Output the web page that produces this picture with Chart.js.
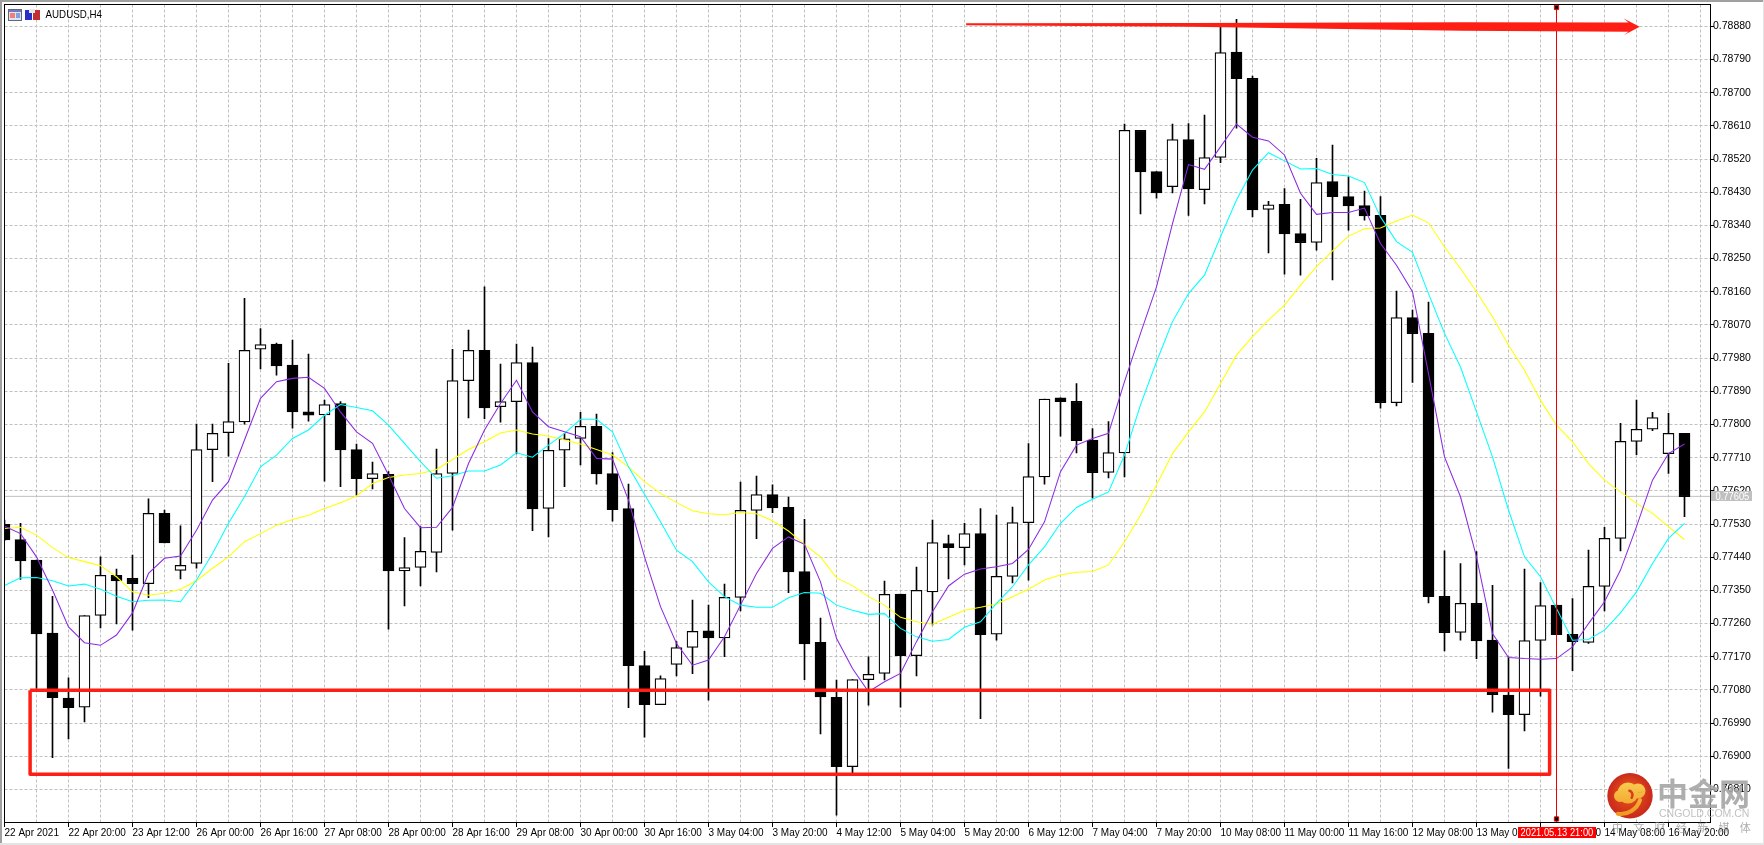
<!DOCTYPE html>
<html>
<head>
<meta charset="utf-8">
<title>AUDUSD,H4</title>
<style>
  html, body { margin: 0; padding: 0; background: #fff; overflow: hidden; }
  canvas { display: block; }
</style>
<script src="https://cdn.jsdelivr.net/npm/chart.js@4/dist/chart.umd.min.js"></script>
</head>
<body>
<canvas id="chart" width="1764" height="845"></canvas>
<script>
const symbolTitle = 'AUDUSD,H4';

// candles, one H4 bar per entry
const opens = [0.77529,0.77488,0.77432,0.77234,0.77058,0.77033,0.77282,0.77391,0.77383,0.77368,0.77559,0.77404,0.77423,0.77732,0.77778,0.77807,0.78004,0.78018,0.77961,0.77834,0.77826,0.77857,0.77732,0.77653,0.77665,0.77403,0.77412,0.77453,0.77667,0.77919,0.78001,0.77848,0.77862,0.77968,0.77572,0.77730,0.77762,0.77795,0.77667,0.77572,0.77146,0.77040,0.77149,0.77195,0.77240,0.77221,0.77331,0.77567,0.77610,0.77575,0.77401,0.77209,0.77060,0.76872,0.77108,0.77125,0.77340,0.77173,0.77346,0.77477,0.77466,0.77504,0.77231,0.77388,0.77534,0.77658,0.77872,0.77863,0.77758,0.77670,0.77723,0.78598,0.78486,0.78445,0.78573,0.78437,0.78524,0.78810,0.78739,0.78383,0.78397,0.78318,0.78294,0.78459,0.78418,0.78394,0.78367,0.77859,0.78090,0.78047,0.77334,0.77236,0.77315,0.77215,0.77066,0.77013,0.77214,0.77310,0.77231,0.77209,0.77361,0.77491,0.77754,0.77787,0.77721,0.77776];
const highs = [0.77541,0.77532,0.77432,0.77334,0.77113,0.77282,0.77441,0.77408,0.77446,0.77598,0.77568,0.77525,0.77801,0.77801,0.77966,0.78142,0.78060,0.78021,0.78029,0.77991,0.77866,0.77862,0.77747,0.77698,0.77672,0.77493,0.77523,0.77733,0.78004,0.78056,0.78173,0.77964,0.78018,0.78010,0.77762,0.77776,0.77833,0.77828,0.77724,0.77638,0.77185,0.77118,0.77211,0.77324,0.77310,0.77367,0.77644,0.77660,0.77636,0.77603,0.77543,0.77275,0.77107,0.77108,0.77170,0.77375,0.77340,0.77413,0.77541,0.77500,0.77532,0.77572,0.77554,0.77576,0.77748,0.77869,0.77872,0.77911,0.77789,0.77808,0.78615,0.78598,0.78486,0.78615,0.78616,0.78639,0.78884,0.78899,0.78745,0.78405,0.78440,0.78411,0.78522,0.78558,0.78472,0.78433,0.78418,0.78162,0.78110,0.78132,0.77457,0.77423,0.77455,0.77364,0.77170,0.77408,0.77371,0.77310,0.77328,0.77459,0.77521,0.77803,0.77866,0.77833,0.77830,0.77776];
const lows = [0.77485,0.77380,0.77084,0.76896,0.76947,0.76993,0.77248,0.77259,0.77242,0.77330,0.77479,0.77381,0.77410,0.77645,0.77714,0.77801,0.77951,0.77934,0.77790,0.77809,0.77646,0.77631,0.77608,0.77625,0.77245,0.77308,0.77362,0.77400,0.77513,0.77818,0.77816,0.77806,0.77720,0.77512,0.77495,0.77631,0.77690,0.77638,0.77538,0.77032,0.76952,0.77040,0.77118,0.77124,0.77052,0.77170,0.77294,0.77490,0.77561,0.77344,0.77108,0.76961,0.76740,0.76855,0.77039,0.77107,0.77033,0.77118,0.77256,0.77381,0.77419,0.77002,0.77215,0.77370,0.77378,0.77638,0.77768,0.77723,0.77600,0.77655,0.77658,0.78371,0.78414,0.78428,0.78367,0.78398,0.78510,0.78604,0.78363,0.78265,0.78208,0.78205,0.78273,0.78192,0.78327,0.78354,0.77844,0.77850,0.77914,0.77316,0.77186,0.77215,0.77165,0.77020,0.76867,0.76969,0.77063,0.77230,0.77132,0.77206,0.77294,0.77457,0.77718,0.77783,0.77667,0.77550];
const closes = [0.77487,0.77430,0.77232,0.77059,0.77032,0.77282,0.77391,0.77376,0.77368,0.77559,0.77479,0.77418,0.77732,0.77776,0.77808,0.78001,0.78017,0.77959,0.77834,0.77825,0.77854,0.77731,0.77653,0.77667,0.77403,0.77412,0.77456,0.77667,0.77919,0.78001,0.77845,0.77862,0.77968,0.77571,0.77730,0.77761,0.77795,0.77666,0.77569,0.77146,0.77040,0.77111,0.77195,0.77239,0.77221,0.77331,0.77567,0.77610,0.77574,0.77400,0.77205,0.77061,0.76872,0.77108,0.77122,0.77339,0.77173,0.77350,0.77480,0.77466,0.77504,0.77230,0.77388,0.77534,0.77659,0.77869,0.77862,0.77756,0.77669,0.77724,0.78598,0.78485,0.78428,0.78573,0.78439,0.78524,0.78809,0.78738,0.78382,0.78396,0.78317,0.78293,0.78456,0.78418,0.78393,0.78366,0.77859,0.78090,0.78046,0.77333,0.77235,0.77315,0.77213,0.77067,0.77013,0.77214,0.77309,0.77230,0.77211,0.77361,0.77491,0.77754,0.77787,0.77819,0.77776,0.77604];

// moving averages, same bars
const maPurple = [0.77524,0.77504,0.77441,0.77351,0.77251,0.77208,0.77201,0.77229,0.77289,0.77396,0.77437,0.77443,0.77513,0.77595,0.77645,0.77758,0.77871,0.77916,0.77925,0.77928,0.77898,0.77834,0.77780,0.77749,0.77663,0.77572,0.77520,0.77521,0.77575,0.77694,0.77785,0.77857,0.77920,0.77834,0.77794,0.77780,0.77767,0.77708,0.77706,0.77595,0.77441,0.77306,0.77206,0.77147,0.77161,0.77224,0.77310,0.77396,0.77464,0.77495,0.77475,0.77373,0.77220,0.77138,0.77075,0.77102,0.77125,0.77211,0.77292,0.77362,0.77394,0.77408,0.77414,0.77423,0.77461,0.77536,0.77672,0.77744,0.77762,0.77776,0.77916,0.78047,0.78173,0.78345,0.78505,0.78492,0.78553,0.78615,0.78579,0.78569,0.78531,0.78427,0.78370,0.78375,0.78375,0.78387,0.78291,0.78232,0.78160,0.77938,0.77712,0.77604,0.77441,0.77233,0.77168,0.77165,0.77163,0.77165,0.77197,0.77260,0.77319,0.77405,0.77523,0.77649,0.77721,0.77747];
const maAqua = [0.77363,0.77384,0.77385,0.77376,0.77362,0.77367,0.77353,0.77334,0.77319,0.77323,0.77324,0.77319,0.77378,0.77450,0.77532,0.77604,0.77685,0.77717,0.77762,0.77785,0.77825,0.77854,0.77846,0.77837,0.77798,0.77749,0.77699,0.77654,0.77661,0.77674,0.77674,0.77690,0.77723,0.77711,0.77744,0.77776,0.77814,0.77814,0.77780,0.77685,0.77611,0.77536,0.77459,0.77428,0.77373,0.77333,0.77310,0.77304,0.77304,0.77330,0.77344,0.77342,0.77310,0.77296,0.77285,0.77287,0.77247,0.77224,0.77212,0.77217,0.77250,0.77265,0.77315,0.77360,0.77419,0.77468,0.77532,0.77575,0.77597,0.77617,0.77717,0.77853,0.77970,0.78079,0.78155,0.78205,0.78309,0.78409,0.78490,0.78537,0.78515,0.78493,0.78494,0.78478,0.78474,0.78456,0.78363,0.78296,0.78267,0.78155,0.78047,0.77956,0.77834,0.77712,0.77568,0.77441,0.77387,0.77301,0.77215,0.77217,0.77242,0.77289,0.77346,0.77423,0.77491,0.77532];
const maYellow = [0.77518,0.77521,0.77500,0.77466,0.77439,0.77428,0.77417,0.77387,0.77346,0.77337,0.77342,0.77353,0.77376,0.77410,0.77441,0.77482,0.77504,0.77527,0.77542,0.77554,0.77572,0.77588,0.77606,0.77640,0.77656,0.77663,0.77667,0.77678,0.77705,0.77732,0.77753,0.77777,0.77785,0.77774,0.77769,0.77758,0.77747,0.77732,0.77717,0.77685,0.77645,0.77613,0.77588,0.77566,0.77558,0.77555,0.77561,0.77558,0.77539,0.77511,0.77475,0.77441,0.77384,0.77363,0.77333,0.77310,0.77277,0.77265,0.77258,0.77277,0.77296,0.77304,0.77313,0.77333,0.77353,0.77378,0.77392,0.77399,0.77401,0.77419,0.77482,0.77554,0.77636,0.77721,0.77780,0.77834,0.77911,0.77988,0.78038,0.78083,0.78124,0.78178,0.78228,0.78271,0.78311,0.78331,0.78333,0.78352,0.78368,0.78347,0.78282,0.78223,0.78160,0.78092,0.78015,0.77947,0.77866,0.77798,0.77753,0.77694,0.77649,0.77617,0.77586,0.77559,0.77523,0.77488];

// axis labels
const xTickLabels = ['22 Apr 2021','22 Apr 20:00','23 Apr 12:00','26 Apr 00:00','26 Apr 16:00','27 Apr 08:00','28 Apr 00:00','28 Apr 16:00','29 Apr 08:00','30 Apr 00:00','30 Apr 16:00','3 May 04:00','3 May 20:00','4 May 12:00','5 May 04:00','5 May 20:00','6 May 12:00','7 May 04:00','7 May 20:00','10 May 08:00','11 May 00:00','11 May 16:00','12 May 08:00','13 May 00:00','13 May 16:00','14 May 08:00','16 May 20:00'];
const yTickValues = [0.7888,0.7879,0.787,0.7861,0.7852,0.7843,0.7834,0.7825,0.7816,0.7807,0.7798,0.7789,0.778,0.7771,0.7762,0.7753,0.7744,0.7735,0.7726,0.7717,0.7708,0.7699,0.769,0.7681];

// drawn objects on the chart
const lastPrice = 0.77605;
const lastPriceText = '0.77605';
const cursorBar = 97;
const cursorText = '2021.05.13 21:00';
const boxX = [1.6, 96.57, 96.57, 1.6, 1.6];
const boxY = [0.77079, 0.77079, 0.76851, 0.76851, 0.77079];
const arrowX = [60.1, 74.1, 91.1, 101.5, 101.2, 102.2, 101.2, 101.5, 91.1, 74.1, 60.1];
const arrowY = [0.78888, 0.78889, 0.78891, 0.7889, 0.78901, 0.78879, 0.78856, 0.78865, 0.78868, 0.78879, 0.78883];

// 1705.5px wide plot at exactly 16px a bar keeps the candles on whole pixels
const xMin = 0, xMax = 106.59375;
const yMin = 0.767218, yMax = 0.789391;

const axisFont = { family: '"Liberation Sans", sans-serif', size: 10.5 };
const RED = '#ff1e14';

const bars = opens.map((o, i) => i);
const isUp = i => closes[i] >= opens[i];

// narrow text for the tags, the terminal font is tall and tight
function squeezedText(ctx, text, x, y, size, xScale) {
  ctx.save();
  ctx.translate(x, y);
  ctx.scale(xScale, 1);
  ctx.font = size + 'px "Liberation Sans"';
  ctx.fillText(text, 0, 0);
  ctx.restore();
}

function drawChrome(chart) {
  const { ctx, width, height } = chart;
  ctx.save();
  ctx.fillStyle = '#a0a0a0';
  ctx.fillRect(0, 0, width, 2);
  ctx.fillRect(0, 0, 2, height);
  ctx.fillStyle = '#e4e4e4';
  ctx.fillRect(0, height - 2, width, 2);
  ctx.fillRect(width - 1, 0, 1, height);
  ctx.restore();
}

function drawIcons(ctx) {
  ctx.fillStyle = '#dfe3f5';
  ctx.fillRect(8, 9, 14, 11);
  ctx.fillStyle = '#7078c0';
  ctx.fillRect(8, 9, 14, 3);
  ctx.fillStyle = '#f08070';
  ctx.fillRect(10, 13, 5, 5);
  ctx.fillStyle = '#80a0e0';
  ctx.fillRect(16, 13, 4, 5);
  ctx.strokeStyle = '#606878';
  ctx.strokeRect(8.5, 9.5, 13, 11);
  ctx.fillStyle = '#2830c8';
  ctx.fillRect(25, 10, 7, 10);
  ctx.fillStyle = '#c03030';
  ctx.fillRect(33, 10, 7, 10);
  ctx.fillStyle = '#e8e8e8';
  ctx.fillRect(29, 9, 6, 4);
}

function drawWatermark(ctx) {
  const glow = ctx.createRadialGradient(1630, 790, 4, 1630, 796, 23);
  glow.addColorStop(0, '#e8541a');
  glow.addColorStop(1, '#c8281c');
  ctx.fillStyle = glow;
  ctx.beginPath();
  ctx.arc(1630, 795.7, 22.7, 0, Math.PI * 2);
  ctx.fill();

  // cloud swirl of the logo
  const gold = ctx.createLinearGradient(0, 782, 0, 815);
  gold.addColorStop(0, '#f8cc50');
  gold.addColorStop(1, '#f09820');
  ctx.fillStyle = gold;
  ctx.beginPath();
  ctx.arc(1628, 793, 10.5, 0, Math.PI * 2);
  ctx.arc(1638, 791, 7.5, 0, Math.PI * 2);
  ctx.arc(1620, 796, 6, 0, Math.PI * 2);
  ctx.fill();
  ctx.strokeStyle = '#d83c1c';
  ctx.lineCap = 'round';
  ctx.lineWidth = 2.5;
  ctx.beginPath();
  ctx.arc(1628, 795, 4.5, Math.PI * 0.2, Math.PI * 1.6, true);
  ctx.stroke();
  ctx.strokeStyle = gold;
  ctx.lineWidth = 4;
  ctx.beginPath();
  ctx.arc(1621, 794, 20, Math.PI * 0.55, Math.PI * 0.1, true);
  ctx.stroke();

  ctx.textAlign = 'left';
  ctx.textBaseline = 'alphabetic';
  ctx.fillStyle = 'rgba(165,165,165,0.9)';
  ctx.font = 'bold 31px "Noto Sans CJK SC"';
  ctx.fillText('中金网', 1657, 805);
  ctx.font = '10.5px "Liberation Sans"';
  ctx.fillStyle = 'rgba(190,190,190,0.95)';
  ctx.fillText('CNGOLD.COM.CN', 1659, 817);
  ctx.font = '11px "Noto Sans CJK SC"';
  ctx.fillStyle = 'rgba(140,140,140,0.7)';
  ['中', '文', '财', '经', '新', '媒', '体'].forEach((ch, i) => ctx.fillText(ch, 1612 + i * 21.3, 832));
}

const overlayPlugin = {
  id: 'overlay',
  beforeDraw(chart) {
    drawChrome(chart);
  },
  afterDraw(chart) {
    const { ctx, chartArea, scales } = chart;
    ctx.save();

    // tapered arrow above the last high
    ctx.fillStyle = RED;
    ctx.beginPath();
    arrowX.forEach((x, i) => {
      ctx.lineTo(scales.x.getPixelForValue(x), scales.y.getPixelForValue(arrowY[i]));
    });
    ctx.closePath();
    ctx.fill();

    // frame, kept on pixel centres
    const left = Math.floor(chartArea.left) + 0.5;
    const top = Math.floor(chartArea.top) + 0.5;
    ctx.strokeStyle = '#000';
    ctx.lineWidth = 1;
    ctx.strokeRect(left, top, Math.round(chartArea.right) - left + 0.5, Math.round(chartArea.bottom) - top + 0.5);

    drawIcons(ctx);
    ctx.fillStyle = '#000';
    ctx.textBaseline = 'middle';
    ctx.textAlign = 'left';
    squeezedText(ctx, symbolTitle, 45.5, 14.5, 11.5, 0.85);

    // last price tag
    const py = Math.round(scales.y.getPixelForValue(lastPrice));
    ctx.fillStyle = '#c0c0c0';
    ctx.fillRect(1711, py - 5, 41, 10);
    ctx.fillStyle = '#fff';
    squeezedText(ctx, lastPriceText, 1715.5, py + 0.5, 11, 0.85);

    // cursor date tag
    ctx.fillStyle = '#ff0000';
    ctx.fillRect(1518, 827, 78, 11);
    ctx.fillStyle = '#fff';
    squeezedText(ctx, cursorText, 1520.5, 832.5, 11, 0.85);

    drawWatermark(ctx);
    ctx.restore();
  }
};

const wickData = bars.map(i => ({ x: i, y: [lows[i], highs[i]] }));
const bodyData = bars.map(i => ({ x: i, y: [opens[i], closes[i]] }));
const lineOf = values => values.map((y, i) => ({ x: i, y }));

const thinLine = (label, data, color, order, width) => ({
  type: 'line', label, data, order,
  borderColor: color, borderWidth: width, pointRadius: 0, tension: 0, fill: false
});

new Chart(document.getElementById('chart'), {
  type: 'bar',
  data: {
    datasets: [
      thinLine('Last', [{ x: xMin, y: lastPrice }, { x: xMax, y: lastPrice }], '#c0c0c0', 9, 1),
      { label: 'Wick', data: wickData, order: 8, grouped: false, barThickness: 1, backgroundColor: '#000', borderWidth: 0 },
      {
        label: 'Body', data: bodyData, order: 7, grouped: false, barThickness: 11, borderWidth: 1.25, borderSkipped: false,
        backgroundColor: bars.map(i => isUp(i) ? '#fff' : '#000'), borderColor: '#000'
      },
      thinLine('MA yellow', lineOf(maYellow), '#ffff00', 6, 1.05),
      thinLine('MA aqua', lineOf(maAqua), '#00ffff', 5, 1.05),
      thinLine('MA purple', lineOf(maPurple), '#8a2be2', 4, 1.05),
      {
        type: 'line', label: 'Box', order: 3, data: boxX.map((x, i) => ({ x, y: boxY[i] })),
        borderColor: RED, borderWidth: 3.5, borderJoinStyle: 'round', pointRadius: 0, tension: 0, fill: false
      },
      {
        type: 'line', label: 'Cursor', order: 2,
        data: [{ x: cursorBar, y: yMax }, { x: cursorBar, y: 0.78931 }, { x: cursorBar, y: 0.7673 }, { x: cursorBar, y: yMin }],
        borderColor: '#f00000', borderWidth: 1, tension: 0, fill: false,
        pointStyle: 'rect', pointRadius: [0, 3, 3, 0], pointBackgroundColor: '#000', pointBorderColor: '#f00000', pointBorderWidth: 1
      }
    ]
  },
  options: {
    responsive: false,
    animation: false,
    devicePixelRatio: 1,
    layout: { padding: { left: 4.5, top: 4.5, right: 0, bottom: 0 } },
    plugins: { legend: { display: false }, tooltip: { enabled: false } },
    scales: {
      x: {
        type: 'linear', min: xMin, max: xMax, offset: false,
        afterBuildTicks(axis) {
          const ticks = [];
          for (let v = 0; v <= 106; v += 2) ticks.push({ value: v });
          axis.ticks = ticks;
        },
        afterFit(axis) {
          axis.height = 23;
          axis.paddingLeft = 0;
          axis.paddingRight = 0;
        },
        grid: {
          offset: false, color: '#c0c0c0', tickLength: 5, tickBorderDash: [],
          tickColor: c => (c.tick && c.tick.value % 4 === 0) ? '#000' : 'rgba(0,0,0,0)'
        },
        border: { display: false, dash: [3, 2] },
        ticks: {
          autoSkip: false, maxRotation: 0, align: 'start', padding: 0, color: '#000',
          font: { family: axisFont.family, size: 10 },
          callback: v => (v % 4 === 0 ? xTickLabels[v / 4] : '')
        }
      },
      y: {
        position: 'right', min: yMin, max: yMax,
        afterBuildTicks(axis) { axis.ticks = yTickValues.map(value => ({ value })); },
        afterFit(axis) {
          axis.width = 54;
          axis.paddingTop = 0;
          axis.paddingBottom = 0;
        },
        grid: { color: '#c0c0c0', tickLength: 4, tickColor: '#000', tickBorderDash: [] },
        border: { display: false, dash: [3, 2] },
        ticks: { padding: -1, color: '#000', font: axisFont, callback: v => v.toFixed(5) }
      }
    }
  },
  plugins: [overlayPlugin]
});
</script>
</body>
</html>
